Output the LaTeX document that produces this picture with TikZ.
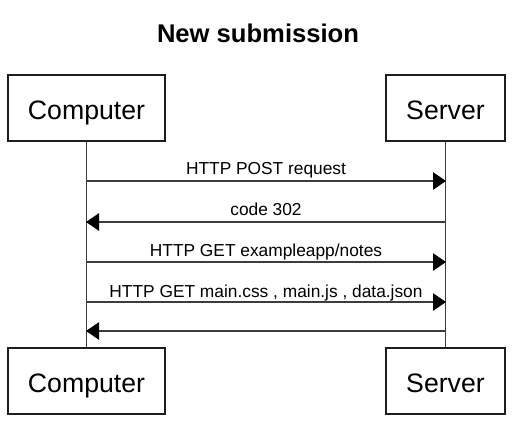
\documentclass[tikz,border=0pt]{standalone}
\usepackage{fontspec}
\setmainfont{Liberation Sans}
\usetikzlibrary{arrows.meta}
\definecolor{linecol}{RGB}{60,60,60}
\definecolor{boxcol}{RGB}{30,30,30}
\tikzset{
  actor/.style={draw=boxcol, line width=1.1pt, minimum height=49.5pt, inner sep=0pt,
    font=\fontsize{20}{24}\selectfont, text height=17.25pt, text depth=0pt},
  lifeline/.style={draw=linecol, line width=1.2pt},
  msg/.style={draw=linecol, line width=1.1pt, -{Triangle[length=9.75pt,width=13pt,color=black]}},
  msglabel/.style={anchor=base, inner sep=0pt, font=\fontsize{13}{15}\selectfont}
}
\begin{document}
\begin{tikzpicture}[x=0.75pt,y=-0.75pt]
\path[fill=white,use as bounding box] (0,0) rectangle (516,424);
\node[anchor=base, inner sep=0pt, font=\bfseries\fontsize{19.2}{23}\selectfont] (title) at (258,42.5) {New submission};
\node[actor, minimum width=117.75pt] (ct) at (86.5,108) {Computer};
\node[actor, minimum width=89.25pt] (st) at (445.5,108) {Server};
\node[actor, minimum width=117.75pt] (cb) at (86.5,381) {Computer};
\node[actor, minimum width=89.25pt] (sb) at (445.5,381) {Server};
\draw[lifeline] (ct.south) -- (cb.north);
\draw[lifeline] (st.south) -- (sb.north);
\foreach \i/\y in {1/181,2/222,3/262,4/302,5/331}{
  \coordinate (c\i) at (86,\y);
  \coordinate (s\i) at (446,\y);
}
\draw[msg] (c1) -- (s1);
\draw[msg] (s2) -- (c2);
\draw[msg] (c3) -- (s3);
\draw[msg] (c4) -- (s4);
\draw[msg] (s5) -- (c5);
\node[msglabel] (l1) at (266,174.5) {HTTP POST request};
\node[msglabel] (l2) at (266,215.5) {code 302};
\node[msglabel] (l3) at (266,256) {HTTP GET exampleapp/notes};
\node[msglabel] (l4) at (266,297) {HTTP GET main.css , main.js , data.json};
\end{tikzpicture}
\end{document}
